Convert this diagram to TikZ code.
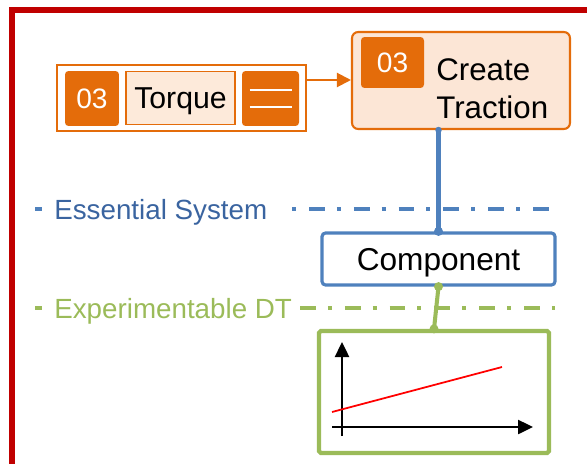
\documentclass[tikz,border=0pt]{standalone}
\usepackage{fontspec}
\setmainfont{Liberation Sans}
\usepackage{tikz}
\usetikzlibrary{calc,arrows.meta}
\definecolor{torange}{RGB}{228,108,10}
\definecolor{tpeach}{RGB}{252,230,214}
\definecolor{tpeachlight}{RGB}{253,234,218}
\definecolor{esblue}{RGB}{79,129,189}
\definecolor{estext}{RGB}{58,100,160}
\definecolor{dtgreen}{RGB}{155,187,89}
\definecolor{framered}{RGB}{192,0,0}

\begin{document}
\begin{tikzpicture}[x=0.02cm, y=-0.02cm,
	box/.style={inner sep=0pt, rectangle},
	badge/.style={box, fill=torange, text=white, rounded corners=2pt, font=\fontsize{16}{18}\selectfont},
	layerline/.style={line width=2pt, dash pattern=on 2.3pt off 7.4pt on 9pt off 6.8pt},
	layerlabel/.style={anchor=base west, inner sep=0pt, font=\fontsize{15.8}{18}\selectfont},
	joint/.style={circle, fill, inner sep=0pt, minimum size=0.18cm}]
	\useasboundingbox (0,0) rectangle (587,463);

	% outer frame
	\draw[framered, line width=3.4pt] (12,480) -- (12,10) -- (600,10);

	% signal bar
	\node[box, draw=torange, line width=1.1pt, minimum width=4.98cm, minimum height=1.32cm] (torquebar) at (181.5,98) {};
	\node[badge, minimum width=1.08cm, minimum height=1.1cm] (torqueid) at (92,98.5) {03};
	\node[box, draw=torange, fill=tpeachlight, line width=0.9pt, minimum width=2.18cm, minimum height=1.06cm, text depth=0pt, font=\fontsize{17.2}{20}\selectfont] (torque) at (180.5,98) {Torque};
	\node[badge, minimum width=1.14cm, minimum height=1.1cm] (menu) at (270.5,98.5) {};
	\draw[white, line width=1.3pt] ($(menu.center)+(-21,-8.5)$) -- ($(menu.center)+(21,-8.5)$);
	\draw[white, line width=1.3pt] ($(menu.center)+(-21,8.5)$) -- ($(menu.center)+(21,8.5)$);

	% function block
	\node[box, draw=torange, fill=tpeach, line width=1.2pt, rounded corners=3.5pt, minimum width=4.36cm, minimum height=1.94cm] (traction) at (461,80.5) {};
	\node[badge, minimum width=1.26cm, minimum height=1.02cm] (tractionid) at (392.5,62.5) {03};
	\node[anchor=west, align=left, inner sep=0pt, font=\fontsize{17.8}{21.5}\selectfont] (tractionname) at (436,89) {Create\\Traction};

	\draw[torange, line width=1.2pt, -{Triangle[length=0.28cm, width=0.28cm]}] (torquebar.east |- 0,80) -- (traction.west |- 0,80);

	% layer separators
	\draw[esblue, line width=2pt] (35,209) -- (42,209);
	\node[layerlabel, text=estext] (esslabel) at (54,219) {Essential System};
	\draw[esblue, layerline] (292,209) -- (555,209);

	\draw[dtgreen, line width=2pt] (35,308) -- (42,308);
	\node[layerlabel, text=dtgreen] (dtlabel) at (54,318) {Experimentable DT};
	\draw[dtgreen, layerline, dash phase=9.7pt] (300,308) -- (555,308);

	% component
	\node[box, draw=esblue, fill=white, line width=1.8pt, rounded corners=2pt, minimum width=4.66cm, minimum height=1.04cm, text depth=0pt, font=\fontsize{18}{21}\selectfont] (component) at (438.5,259) {Component};
	\draw[esblue, line width=2.3pt] (component.north) -- (component.north |- traction.south);
	\node[joint, esblue] (jtop) at (component.north) {};
	\node[joint, esblue, minimum size=0.13cm] (jtraction) at (component.north |- traction.south) {};

	% experimentable twin
	\node[box, draw=dtgreen, line width=2.4pt, rounded corners=1pt, minimum width=4.6cm, minimum height=2.44cm] (plot) at (434,392) {};
	\draw[dtgreen, line width=2.3pt] (component.south) -- (plot.north);
	\node[joint, dtgreen] (jcomp) at (component.south) {};
	\node[joint, dtgreen] (jplot) at (plot.north) {};

	\coordinate (O) at (342,427);
	\coordinate (Y) at (342,342);
	\coordinate (X) at (533,427);
	\draw[line width=1.4pt, -{Triangle[length=0.3cm, width=0.28cm]}] (O) ++(0,9) -- (Y);
	\draw[line width=1.4pt, -{Triangle[length=0.3cm, width=0.28cm]}] (O) ++(-10,0) -- (X);
	\draw[red, line width=1pt] (332,412) -- (502,367);
\end{tikzpicture}
\end{document}
